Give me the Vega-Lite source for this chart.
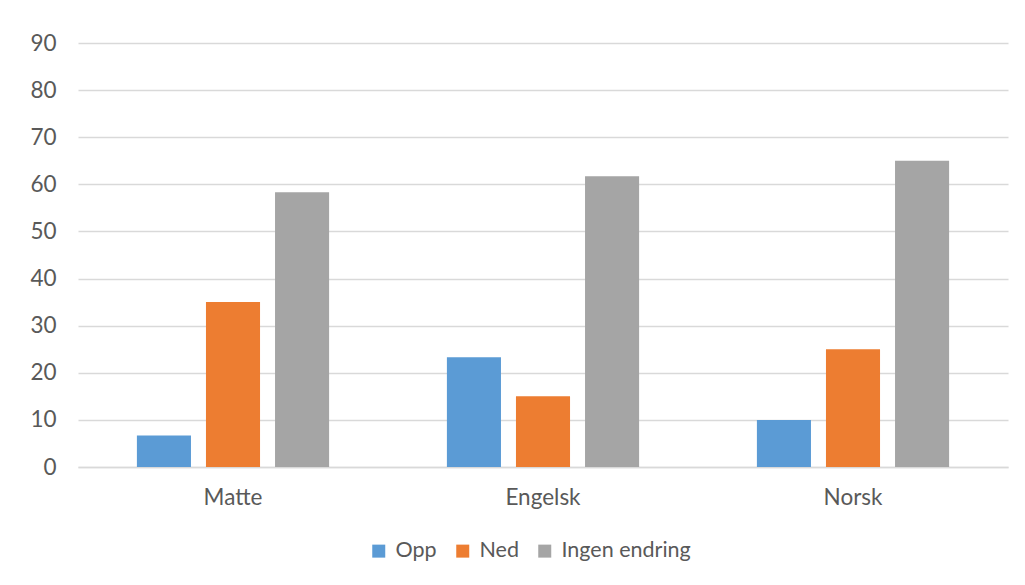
{
  "$schema": "https://vega.github.io/schema/vega-lite/v6.json",
  "width": 930,
  "height": 424,
  "autosize": {"type": "none"},
  "padding": {"left": 78, "top": 43, "right": 17, "bottom": 118},
  "background": "white",
  "config": {
    "view": {"stroke": null},
    "font": "Lato",
    "axis": {"labelFont": "Lato", "labelColor": "#595959", "labelFontSize": 22.5, "titleColor": "#595959"},
    "legend": {"labelFont": "Lato", "labelColor": "#595959", "labelFontSize": 21.5}
  },
  "data": {
    "values": [
      {"fag": "Matte", "endring": "Opp", "verdi": 6.7},
      {"fag": "Matte", "endring": "Ned", "verdi": 35},
      {"fag": "Matte", "endring": "Ingen endring", "verdi": 58.3},
      {"fag": "Engelsk", "endring": "Opp", "verdi": 23.3},
      {"fag": "Engelsk", "endring": "Ned", "verdi": 15},
      {"fag": "Engelsk", "endring": "Ingen endring", "verdi": 61.7},
      {"fag": "Norsk", "endring": "Opp", "verdi": 10},
      {"fag": "Norsk", "endring": "Ned", "verdi": 25},
      {"fag": "Norsk", "endring": "Ingen endring", "verdi": 65}
    ]
  },
  "mark": {"type": "bar"},
  "encoding": {
    "x": {
      "field": "fag", "type": "nominal", "sort": ["Matte", "Engelsk", "Norsk"],
      "scale": {"paddingInner": 0.38, "paddingOuter": 0.19},
      "axis": {"title": null, "labelAngle": 0, "ticks": false, "domainColor": "#D9D9D9", "domainWidth": 1.5, "labelPadding": 19, "grid": false}
    },
    "xOffset": {
      "field": "endring", "type": "nominal", "sort": ["Opp", "Ned", "Ingen endring"],
      "scale": {"paddingInner": 0.217, "paddingOuter": 0}
    },
    "y": {
      "field": "verdi", "type": "quantitative",
      "scale": {"domain": [0, 90], "nice": false},
      "axis": {"title": null, "values": [0, 10, 20, 30, 40, 50, 60, 70, 80, 90], "domain": false, "ticks": false, "labelPadding": 22, "gridColor": "#D9D9D9", "gridWidth": 1.5}
    },
    "color": {
      "field": "endring", "type": "nominal", "sort": ["Opp", "Ned", "Ingen endring"],
      "scale": {"domain": ["Opp", "Ned", "Ingen endring"], "range": ["#5B9BD5", "#ED7D31", "#A5A5A5"]},
      "legend": {"title": null, "orient": "none", "direction": "horizontal", "legendX": 290, "legendY": 497, "symbolType": "square", "symbolSize": 169, "symbolStrokeWidth": 0, "symbolOpacity": 1, "labelOffset": 6, "columnPadding": 15}
    }
  }
}
